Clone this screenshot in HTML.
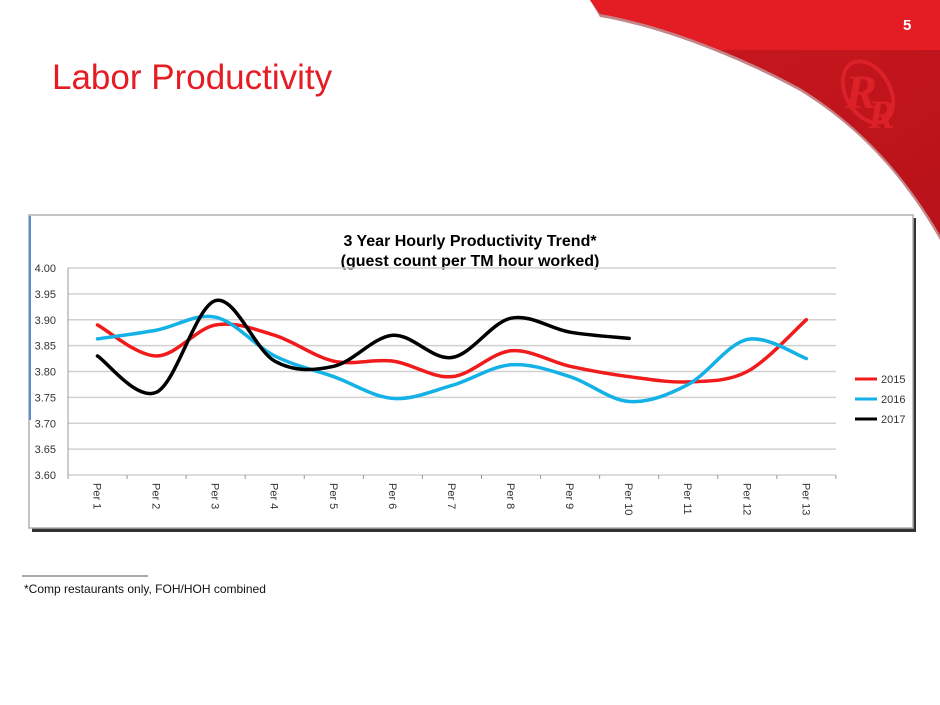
<!DOCTYPE html>
<html><head><meta charset="utf-8"><style>
html,body{margin:0;padding:0;width:940px;height:705px;overflow:hidden;background:#fff;font-family:"Liberation Sans",sans-serif}
</style></head><body>
<svg id="s" width="940" height="705" viewBox="0 0 940 705" xmlns="http://www.w3.org/2000/svg" style="position:absolute;left:0;top:0">
<defs>
<linearGradient id="sh" x1="0" y1="0" x2="1" y2="1"><stop offset="0" stop-color="#cc1820"/><stop offset="1" stop-color="#b81219"/></linearGradient>
<clipPath id="cp"><path d="M590,0 L600,14 C660,24 740,55 800,88 C860,125 905,175 940,235 L940,0 Z"/></clipPath>
</defs>
<path d="M600,17 C660,27 740,58 800,91 C860,128 905,178 940,240 L940,0 L590,0 Z" fill="#8a0c12" opacity="0.5"/>
<g clip-path="url(#cp)">
<rect x="580" y="0" width="360" height="240" fill="url(#sh)"/>
<rect x="580" y="0" width="360" height="50" fill="#e41c24"/>
<ellipse cx="868" cy="92" rx="22" ry="33" transform="rotate(-30 868 92)" fill="none" stroke="#dc2128" stroke-width="4"/>
<text x="845" y="108" font-family="Liberation Serif,serif" font-style="italic" font-weight="bold" font-size="48" fill="#dc2128">R</text>
<text x="868" y="128" font-family="Liberation Serif,serif" font-style="italic" font-weight="bold" font-size="40" fill="#dc2128">R</text>
</g>
<text x="903" y="30" font-size="15" font-weight="bold" fill="#fff">5</text>
<text x="52" y="89" font-size="35" fill="#e41c24">Labor Productivity</text>

<rect x="32" y="218" width="884" height="314" fill="#333"/>
<rect x="29" y="215" width="884" height="313" fill="#fff" stroke="#b0b0b0" stroke-width="1.5"/>
<line x1="30" y1="216" x2="30" y2="420" stroke="#5b8bd0" stroke-width="2"/>
<text x="470" y="246" font-size="16" font-weight="bold" text-anchor="middle" fill="#000">3 Year Hourly Productivity Trend*</text>
<text x="470" y="266" font-size="16" font-weight="bold" text-anchor="middle" fill="#000">(guest count per TM hour worked)</text>
<g id="grid"></g>
<g id="lines" fill="none" stroke-width="3.5" stroke-linecap="round"></g>
<g font-size="11" fill="#333">
<line x1="855" y1="379" x2="877" y2="379" stroke="#f21b1b" stroke-width="3"/><text x="881" y="383">2015</text>
<line x1="855" y1="399" x2="877" y2="399" stroke="#14b1e7" stroke-width="3"/><text x="881" y="403">2016</text>
<line x1="855" y1="419" x2="877" y2="419" stroke="#000" stroke-width="3"/><text x="881" y="423">2017</text>
</g>
<line x1="22" y1="576" x2="148" y2="576" stroke="#555" stroke-width="1"/>
<text x="24" y="593" font-size="12" fill="#111">*Comp restaurants only, FOH/HOH combined</text>
</svg>
<script>
var NS="http://www.w3.org/2000/svg";
function el(t,a,p,txt){var e=document.createElementNS(NS,t);for(var k in a)e.setAttribute(k,a[k]);if(txt)e.textContent=txt;p.appendChild(e);return e;}
var g=document.getElementById('grid'),L=document.getElementById('lines');
var x0=68,x1=836,y0=268,y1=475;
function Y(v){return y1-(v-3.6)/0.4*(y1-y0);}
function X(i){return x0+29.5+i*59.07;}
for(var k=0;k<=8;k++){var v=3.6+k*0.05,y=Y(v);
 el('line',{x1:x0,y1:y,x2:x1,y2:y,stroke:'#d0d0d0','stroke-width':1.5},g);
 el('text',{x:x0-12,y:y+4,'font-size':11,fill:'#333','text-anchor':'end'},g,v.toFixed(2));}
el('line',{x1:x0,y1:y0,x2:x0,y2:y1,stroke:'#999'},g);
for(var i=0;i<=13;i++){var xx=x0+i*59.07;el('line',{x1:xx,y1:y1,x2:xx,y2:y1+4,stroke:'#999'},g);}
for(var i=0;i<13;i++){el('text',{x:0,y:0,'font-size':11,fill:'#333',transform:'translate('+(X(i)-4)+','+(y1+8)+') rotate(90)'},g,'Per '+(i+1));}
var D=[['#f21b1b',[3.89,3.83,3.89,3.87,3.82,3.82,3.79,3.84,3.81,3.79,3.78,3.80,3.90]],
['#14b1e7',[3.863,3.88,3.905,3.83,3.79,3.748,3.773,3.813,3.79,3.742,3.775,3.862,3.825]],
['#000',[3.83,3.76,3.937,3.82,3.81,3.87,3.827,3.903,3.876,3.864]]];
D.forEach(function(s){var p=s[1].map(function(v,i){return [X(i),Y(v)];});
 var d='M'+p[0][0]+','+p[0][1];
 for(var i=0;i<p.length-1;i++){var a=p[Math.max(i-1,0)],b=p[i],c=p[i+1],e=p[Math.min(i+2,p.length-1)],t=1/6;
  d+=' C'+(b[0]+(c[0]-a[0])*t)+','+(b[1]+(c[1]-a[1])*t)+' '+(c[0]-(e[0]-b[0])*t)+','+(c[1]-(e[1]-b[1])*t)+' '+c[0]+','+c[1];}
 el('path',{d:d,stroke:s[0]},L);});
</script>
</body></html>
